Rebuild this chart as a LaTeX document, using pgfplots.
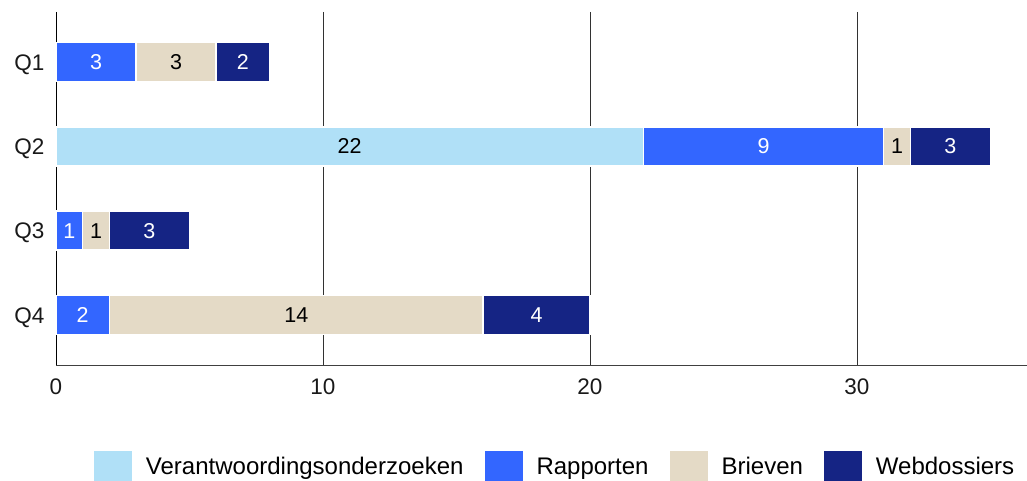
\documentclass[border=0pt]{standalone}
\usepackage{fontspec}
\setmainfont{Liberation Sans}
\usepackage{pgfplots}
\pgfplotsset{compat=1.18}
\definecolor{cVer}{RGB}{176,224,247}
\definecolor{cRap}{RGB}{51,102,255}
\definecolor{cBri}{RGB}{228,218,198}
\definecolor{cWeb}{RGB}{21,36,132}
\definecolor{cGrid}{RGB}{50,50,50}
\begin{document}
\begin{tikzpicture}[x=1pt,y=1pt]
\useasboundingbox (0,0) rectangle (1027,481);
\begin{axis}[
  at={(56pt,116pt)}, anchor=south west,
  scale only axis,
  width=971pt, height=353pt,
  xbar stacked,
  bar width=39pt,
  xmin=0, xmax=36.37,
  ymin=-0.59, ymax=3.59,
  y dir=reverse,
  ytick={0,1,2,3},
  yticklabels={Q1,Q2,Q3,Q4},
  xtick={0,10,20,30},
  major tick length=0pt,
  axis line style={draw=none},
  xmajorgrids=true,
  grid style={cGrid, line width=0.8pt},
  /pgf/number format/assume math mode=true,
  ticklabel style={font=\fontsize{22.5}{26}\selectfont, text=black!90},
  yticklabel style={font=\fontsize{22.5}{26}\selectfont, xshift=-8pt, yshift=-2.5pt},
  xticklabel style={yshift=-10pt},
  point meta=explicit symbolic,
  nodes near coords,
  every node near coord/.append style={font=\fontsize{21.5}{25}\selectfont},
  legend style={at={(0.514,-0.289)}, anchor=center, draw=none, fill=none,
    legend columns=4,
    /tikz/every even column/.append style={column sep=19pt},
    font=\fontsize{24}{28}\selectfont},
  legend cell align=left,
  legend image code/.code={\fill[#1,draw=none] (0pt,-16pt) rectangle (38pt,16pt);},
]
\addplot[draw=white, line width=1.5pt, fill=cVer, every node near coord/.append style={text=black}] coordinates {(0,0) [] (22,1) [22] (0,2) [] (0,3) []};
\addlegendentry{\hspace{12pt}Verantwoordingsonderzoeken}
\addplot[draw=white, line width=1.5pt, fill=cRap, every node near coord/.append style={text=white}] coordinates {(3,0) [3] (9,1) [9] (1,2) [1] (2,3) [2]};
\addlegendentry{\hspace{12pt}Rapporten}
\addplot[draw=white, line width=1.5pt, fill=cBri, every node near coord/.append style={text=black}] coordinates {(3,0) [3] (1,1) [1] (1,2) [1] (14,3) [14]};
\addlegendentry{\hspace{12pt}Brieven}
\addplot[draw=white, line width=1.5pt, fill=cWeb, every node near coord/.append style={text=white}] coordinates {(2,0) [2] (3,1) [3] (3,2) [3] (4,3) [4]};
\addlegendentry{\hspace{12pt}Webdossiers}
\draw[black, line width=0.9pt] (rel axis cs:0,0) -- (rel axis cs:0,1);
\draw[black!75, line width=0.9pt] (rel axis cs:0,0) -- (rel axis cs:1,0);
\end{axis}
\end{tikzpicture}
\end{document}
